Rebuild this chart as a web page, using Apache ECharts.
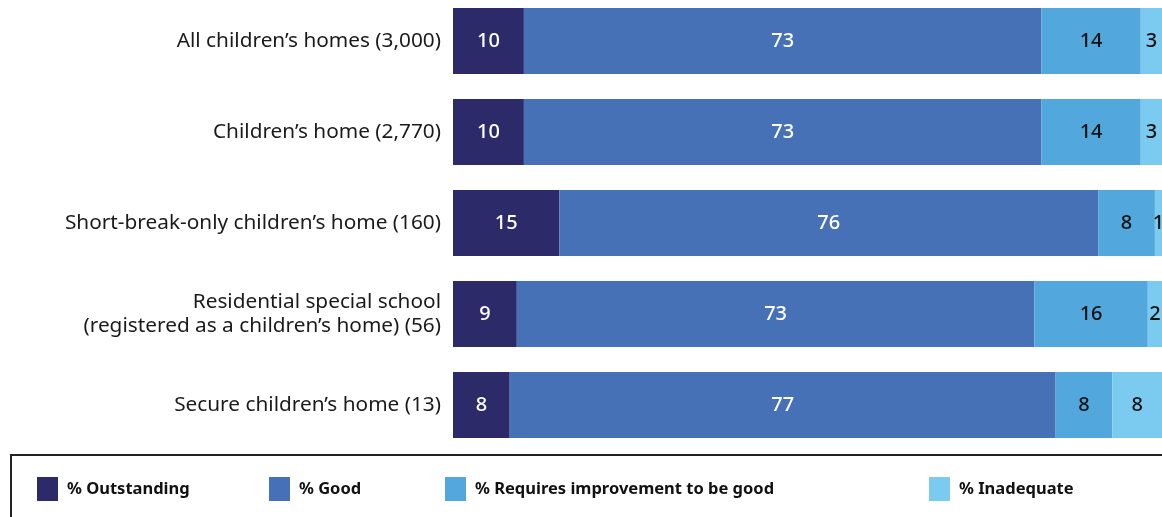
<!DOCTYPE html>
<html><head><meta charset="utf-8">
<script src="https://cdn.jsdelivr.net/npm/echarts@6/dist/echarts.min.js"></script>
<style>html,body{margin:0;padding:0;background:#fff}#c{width:1162px;height:517px}</style>
</head><body><div id="c"></div>
<script>
const categories = [
  "All children\u2019s homes (3,000)",
  "Children\u2019s home (2,770)",
  "Short-break-only children\u2019s home (160)",
  "Residential special school\n(registered as a children\u2019s home) (56)",
  "Secure children\u2019s home (13)"
];
const seriesNames = ["% Outstanding", "% Good", "% Requires improvement to be good", "% Inadequate"];
const outstanding = [10, 10, 15, 9, 8];
const good = [73, 73, 76, 73, 77];
const requiresImprovement = [14, 14, 8, 16, 8];
const inadequate = [3, 3, 1, 2, 8];
const colors = ["#2d2a6a", "#4771b7", "#52a7dc", "#7bcbf0"];
const labelColors = ["#ffffff", "#ffffff", "#111111", "#111111"];
const values = [outstanding, good, requiresImprovement, inadequate];
const FONT = "Noto Sans";

const chart = echarts.init(document.getElementById('c'), null, {renderer: 'canvas'});
const legendLefts = [37, 269, 445, 929];
chart.setOption({
  animation: false,
  textStyle: {fontFamily: FONT},
  grid: {left: 453, right: 0, top: -4.5, height: 455, containLabel: false, outerBoundsMode: 'none'},
  xAxis: {type: 'value', min: 0, max: 100, show: false},
  yAxis: {
    type: 'category', data: categories, inverse: true,
    axisLine: {show: false}, axisTick: {show: false},
    axisLabel: {margin: 12, fontSize: 20.8, color: '#1a1a1a', lineHeight: 24, fontFamily: FONT, padding: [5, 0, 0, 0]}
  },
  legend: seriesNames.map((n, i) => ({
    data: [n], left: legendLefts[i], top: 477, itemWidth: 21, itemHeight: 24, itemGap: 0,
    icon: 'rect', textStyle: {fontSize: 16.5, fontWeight: 'bold', color: '#111', fontFamily: FONT, padding: [0, 0, 0, 4]},
    padding: 0
  })),
  graphic: [{type: 'rect', shape: {x: 11, y: 455, width: 1200, height: 120},
    style: {fill: 'none', stroke: '#222', lineWidth: 2}, silent: true}],
  series: seriesNames.map((n, i) => ({
    name: n, type: 'bar', stack: 'all', data: values[i], barWidth: 66,
    itemStyle: {color: colors[i]},
    label: {show: true, position: 'inside', color: labelColors[i], fontSize: 20, fontWeight: 500, fontFamily: FONT}
  }))
});
</script></body></html>
